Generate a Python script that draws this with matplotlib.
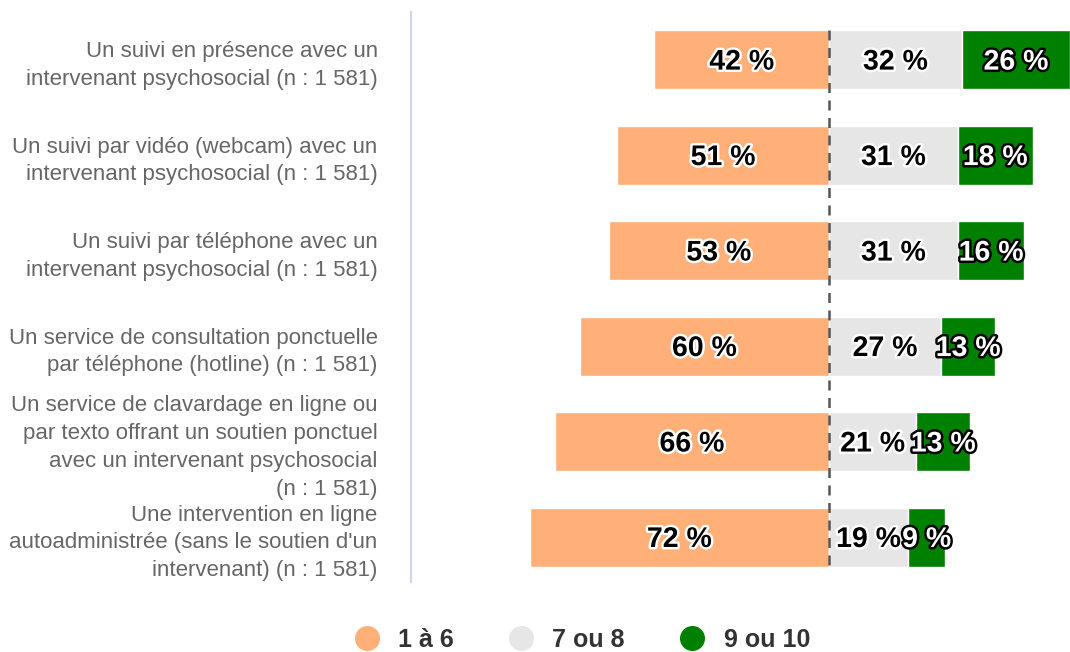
import matplotlib
matplotlib.use("Agg")
import matplotlib.pyplot as plt
import matplotlib.patheffects as pe
from matplotlib.lines import Line2D

plt.rcParams["font.family"] = ["Liberation Sans", "DejaVu Sans"]

categories = [
    "Un suivi en présence avec un\nintervenant psychosocial (n : 1 581)",
    "Un suivi par vidéo (webcam) avec un\nintervenant psychosocial (n : 1 581)",
    "Un suivi par téléphone avec un\nintervenant psychosocial (n : 1 581)",
    "Un service de consultation ponctuelle\npar téléphone (hotline) (n : 1 581)",
    "Un service de clavardage en ligne ou\npar texto offrant un soutien ponctuel\navec un intervenant psychosocial\n(n : 1 581)",
    "Une intervention en ligne\nautoadministrée (sans le soutien d'un\nintervenant) (n : 1 581)",
]
low = [42, 51, 53, 60, 66, 72]        # 1 à 6
mid = [32, 31, 31, 27, 21, 19]        # 7 ou 8
high = [26, 18, 16, 13, 13, 9]        # 9 ou 10
series_names = ["1 à 6", "7 ou 8", "9 ou 10"]
colors = ["#ffaf78", "#e6e6e6", "#008000"]

fig = plt.figure(figsize=(10.7, 6.52), dpi=100)
ax = fig.add_axes([411 / 1070, 1 - 582 / 652, 1 - 411 / 1070, (582 - 12) / 652])

y = list(range(len(categories)))
h = 0.62

left = [-v for v in low]
ax.barh(y, low, left=left, height=h, color=colors[0], edgecolor="white", linewidth=1)
ax.barh(y, mid, left=0, height=h, color=colors[1], edgecolor="white", linewidth=1)
ax.barh(y, high, left=mid, height=h, color=colors[2], edgecolor="white", linewidth=1)

dark_txt = [pe.withStroke(linewidth=3.5, foreground="white")]
light_txt = [pe.withStroke(linewidth=3.5, foreground="black")]
lab = dict(ha="center", va="center", fontsize=20.5, fontweight="bold")
for i in y:
    ax.text(-low[i] / 2, i + 0.03, f"{low[i]} %", color="black", path_effects=dark_txt, **lab)
    ax.text(mid[i] / 2, i + 0.03, f"{mid[i]} %", color="black", path_effects=dark_txt, **lab)
    ax.text(mid[i] + high[i] / 2, i + 0.03, f"{high[i]} %", color="white",
            path_effects=light_txt, **lab)

# dashed zero line
ax.plot([0, 0], [-h / 2, len(y) - 1 + h / 2], color="#555555", linestyle=(0, (4, 3)),
        linewidth=1.8, zorder=5)

ax.set_xlim(-100.6, 58)
ax.set_ylim(len(y) - 0.53, -0.5)
ax.set_xticks([])
ax.set_yticks(y)
ax.set_yticklabels(categories, fontsize=16, color="#666666", linespacing=1.42)
ax.tick_params(axis="y", length=0, pad=24)
for s in ["top", "right", "bottom"]:
    ax.spines[s].set_visible(False)
ax.spines["left"].set_color("#ccd6eb")
ax.spines["left"].set_linewidth(1.5)

handles = [Line2D([], [], marker="o", linestyle="none", markersize=17,
                  markerfacecolor=c, markeredgecolor=c) for c in colors]
leg = fig.legend(handles, series_names, loc="center", bbox_to_anchor=(582 / 1070, 1 - 640 / 652),
                 ncol=3, frameon=False, handlelength=1.0, handletextpad=0.75,
                 columnspacing=2.2, prop={"size": 18, "weight": "bold"})
for t in leg.get_texts():
    t.set_color("#333333")

fig.savefig("out.png", dpi=100)
